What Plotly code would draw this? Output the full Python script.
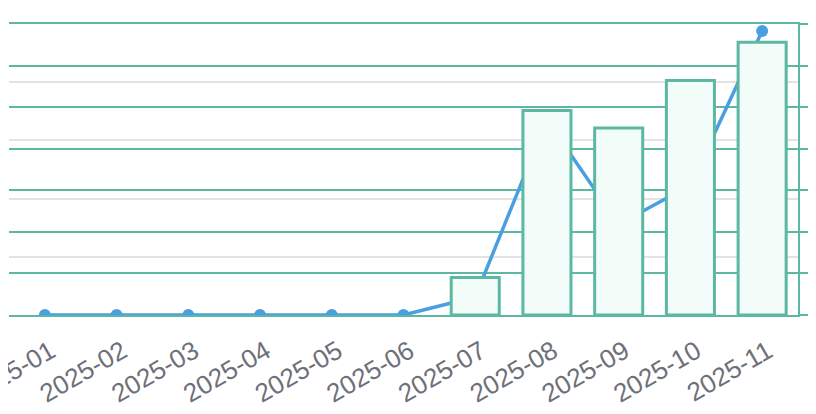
import plotly.graph_objects as go

months = ["2025-01", "2025-02", "2025-03", "2025-04", "2025-05", "2025-06",
          "2025-07", "2025-08", "2025-09", "2025-10", "2025-11"]
bar_values = [None, None, None, None, None, None, 4.5, 24.6, 22.5, 28.2, 32.8]
line_values = [0, 0, 0, 0, 0, 0, 31, 335, 156, 223, 488]

GREEN = "#5cb8a2"
BLUE = "#4a9fe1"
GREY = "#e3e3e3"

fig = go.Figure()
fig.add_trace(go.Scatter(
    x=months, y=line_values, mode="lines+markers", yaxis="y",
    line=dict(color=BLUE, width=3.5),
    marker=dict(color=BLUE, size=12),
    showlegend=False,
))
fig.add_trace(go.Bar(
    x=months, y=bar_values, yaxis="y2",
    marker=dict(color="#f2fcf8", line=dict(color=GREEN, width=3)),
    showlegend=False,
))

fig.update_layout(
    width=816, height=414,
    margin=dict(l=1, r=26, t=16, b=107, autoexpand=False),
    paper_bgcolor="white", plot_bgcolor="white",
    bargap=0.33,
    font=dict(family="Liberation Sans, Arial, sans-serif", size=26, color="#6e7079"),
    xaxis=dict(
        type="category", range=[-0.5, len(months) - 0.5],
        showgrid=False, zeroline=False, automargin=False,
        showline=True, linecolor=GREEN, linewidth=2, mirror=True,
        ticks="", tickangle=-30, tickfont=dict(size=26, color="#6e7079"),
        ticklabelstandoff=9, ticklabelshift=6,
    ),
    yaxis=dict(
        range=[0, 500], dtick=100, showgrid=True, gridcolor=GREY, gridwidth=1.5,
        zeroline=False, showline=False, ticks="outside", ticklen=14,
        tickcolor=GREY, tickwidth=1.5, showticklabels=False, automargin=False,
    ),
    yaxis2=dict(
        range=[0, 35], dtick=5, overlaying="y", side="right",
        showgrid=True, gridcolor=GREEN, gridwidth=2, zeroline=False,
        showline=True, linecolor=GREEN, linewidth=2,
        ticks="outside", ticklen=15, tickcolor=GREEN, tickwidth=2,
        showticklabels=False, automargin=False,
    ),
)

fig.write_html("out.html")
